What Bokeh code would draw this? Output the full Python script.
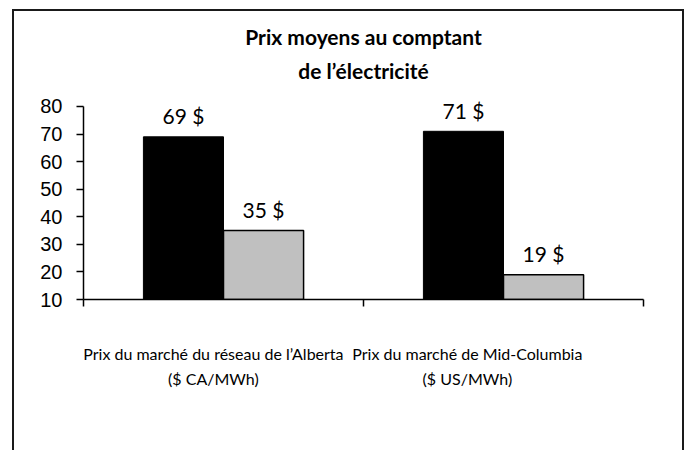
from bokeh.plotting import figure
from bokeh.models import (Range1d, LinearAxis, FixedTicker, Legend,
                          LegendItem, ColumnDataSource, Title)
from bokeh.transform import dodge
from bokeh.core.properties import value
from bokeh.embed import file_html
from bokeh.resources import INLINE

categories = ["Alberta", "Mid-Columbia"]
category_names = ["Prix du marché du réseau de l’Alberta",
                  "Prix du marché de Mid-Columbia"]
category_units = ["($ CA/MWh)", "($ US/MWh)"]
series_names = ["T1 2019", "T1 2018"]
values_2019 = [69, 71]
values_2018 = [35, 19]
y_ticks = [10, 20, 30, 40, 50, 60, 70, 80]
title_lines = ["Prix moyens au comptant", "de l’électricité"]

centers = [i + 0.5 for i in range(len(categories))]
src = ColumnDataSource(dict(
    pos=centers,
    v2019=values_2019,
    v2018=values_2018,
    l2019=[f"{v} $" for v in values_2019],
    l2018=[f"{v} $" for v in values_2018],
))

p = figure(x_range=Range1d(0, len(categories)),
           y_range=Range1d(10, 85.8),
           frame_width=560, frame_height=209,
           output_backend="svg", toolbar_location=None,
           x_axis_location=None, y_axis_location=None,
           min_border_left=69, min_border_right=39,
           min_border_top=79, min_border_bottom=151)
p.margin = (9, 0, 0, 12)
p.styles = {"border-left": "2px solid #1a1a1a", "border-top": "2px solid #1a1a1a",
            "border-right": "2px solid #1a1a1a"}
p.outline_line_color = None
p.xgrid.visible = False
p.ygrid.visible = False
p.background_fill_color = "white"
p.border_fill_color = "white"

bw = 0.286
r1 = p.vbar(x=dodge("pos", -bw / 2), bottom=10, top="v2019", width=bw,
            source=src, fill_color="black", line_color="black", line_width=1)
r2 = p.vbar(x=dodge("pos", bw / 2), bottom=10, top="v2018", width=bw,
            source=src, fill_color="#c0c0c0", line_color="black", line_width=1.5)

p.text(x=dodge("pos", -bw / 2), y="v2019", text="l2019", source=src,
       text_align="center", text_baseline="alphabetic", y_offset=-21,
       text_font=value("Lato"), text_font_size="21px", text_color="black")
p.text(x=dodge("pos", bw / 2), y="v2018", text="l2018", source=src,
       text_align="center", text_baseline="alphabetic", y_offset=-21,
       text_font=value("Lato"), text_font_size="21px", text_color="black")

# y axis
ya = LinearAxis(ticker=FixedTicker(ticks=y_ticks), bounds=(10, 80))
ya.major_tick_in = 0
ya.major_tick_out = 7
ya.minor_tick_out = 0
ya.minor_tick_in = 0
ya.major_label_standoff = 14
ya.major_label_text_font = "Liberation Sans"
ya.major_label_text_font_size = "20px"
ya.major_label_text_color = "black"
ya.axis_line_width = 1.5
ya.major_tick_line_width = 1.5
p.add_layout(ya, "left")

# category label anchors (shifted left as in the original, where the long
# labels were nudged apart)
label_anchor = [0.464, 1.371]

# x axis: category names, tick marks at group boundaries
xa = LinearAxis(ticker=FixedTicker(ticks=label_anchor,
                                   minor_ticks=list(range(len(categories) + 1))))
xa.major_label_overrides = {c: lab for c, lab in zip(label_anchor, category_names)}
xa.major_tick_in = 0
xa.major_tick_out = 7
xa.major_tick_line_color = None
xa.minor_tick_in = 0
xa.minor_tick_out = 7
xa.axis_line_width = 1.5
xa.minor_tick_line_width = 1.5
xa.minor_tick_line_color = "black"
xa.major_label_standoff = 37
xa.major_label_text_font = "Lato"
xa.major_label_text_font_size = "16px"
xa.major_label_text_color = "black"
p.add_layout(xa, "below")

# second line of the category labels (units)
xa2 = LinearAxis(ticker=FixedTicker(ticks=label_anchor, minor_ticks=[]))
xa2.major_label_overrides = {c: lab for c, lab in zip(label_anchor, category_units)}
xa2.axis_line_color = None
xa2.major_tick_line_color = None
xa2.minor_tick_line_color = None
xa2.major_tick_in = 0
xa2.major_tick_out = 0
xa2.minor_tick_in = 0
xa2.minor_tick_out = 0
xa2.major_label_standoff = 3
xa2.major_label_text_font = "Lato"
xa2.major_label_text_font_size = "16px"
xa2.major_label_text_color = "black"
p.add_layout(xa2, "below")

# title: two centred lines (second line closest to the plot)
for line, standoff in ((title_lines[1], 15), (title_lines[0], 0)):
    p.add_layout(Title(text=line, align="center", text_font="Lato",
                       text_font_size="21px", text_font_style="bold",
                       text_color="black", standoff=standoff), "above")

legend = Legend(items=[LegendItem(label=series_names[0], renderers=[r1]),
                       LegendItem(label=series_names[1], renderers=[r2])],
                orientation="horizontal", location=(117, -151),
                label_text_font="Lato", label_text_font_size="20px",
                label_text_color="black", glyph_width=11, glyph_height=11,
                label_standoff=7, spacing=128, border_line_color=None,
                background_fill_alpha=0, margin=0, padding=6)
p.add_layout(legend)

open("out.html", "w").write(file_html(p, INLINE))
